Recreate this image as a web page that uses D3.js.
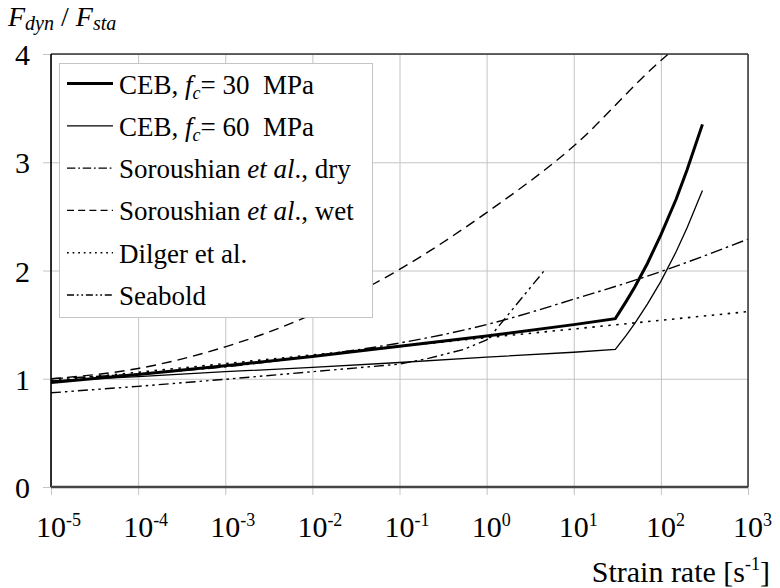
<!DOCTYPE html>
<html>
<head>
<meta charset="utf-8">
<script src="https://cdn.jsdelivr.net/npm/d3@7"></script>
<style>
  html, body { margin: 0; padding: 0; background: #fff; }
</style>
</head>
<body>
<div class="container"></div>
<script>
const WIDTH = 780;
const HEIGHT = 588;
const LEFT = 51, RIGHT = 748, TOP = 54, BOTTOM = 487;
const FONT = "'Liberation Serif'";

// tick values
const xTicks = [1e-5, 1e-4, 1e-3, 1e-2, 1e-1, 1, 10, 100, 1000];
const xTickExp = ["-5", "-4", "-3", "-2", "-1", "0", "1", "2", "3"];
const yTicks = [0, 1, 2, 3, 4];

// series (strain rate in 1/s, F_dyn / F_sta)
const ceb30Rate = [1e-5, 1e-4, 1e-3, 1e-2, 1e-1, 1, 10, 30, 40, 50, 70, 100, 150, 200, 300];
const ceb30Ratio = [0.965, 1.04, 1.12, 1.205, 1.30, 1.395, 1.50, 1.555, 1.715, 1.845, 2.065, 2.33, 2.66, 2.93, 3.35];
const ceb60Rate = [1e-5, 1e-4, 1e-3, 1e-2, 1e-1, 1, 10, 30, 40, 50, 70, 100, 150, 200, 300];
const ceb60Ratio = [0.98, 1.02, 1.065, 1.105, 1.15, 1.20, 1.245, 1.272, 1.40, 1.51, 1.69, 1.90, 2.175, 2.395, 2.74];
const dryRate = [1e-5, 1e-4, 1e-3, 1e-2, 1e-1, 1, 10, 100, 1000];
const dryRatio = [1.0, 1.045, 1.11, 1.21, 1.33, 1.50, 1.735, 1.99, 2.29];
const wetRate = [1e-5, 1e-4, 1e-3, 1e-2, 1e-1, 1, 10, 100, 122];
const wetRatio = [1.0, 1.095, 1.295, 1.595, 2.01, 2.535, 3.15, 3.94, 4.0];
const dilgerRate = [1e-5, 1000];
const dilgerRatio = [0.98, 1.62];
const seaboldRate = [1e-5, 1e-4, 1e-3, 1e-2, 1e-1, 0.22, 0.54, 1, 1.1, 4.6];
const seaboldRatio = [0.87, 0.93, 0.995, 1.065, 1.135, 1.19, 1.27, 1.36, 1.39, 2.0];

// legend labels: [text, style] pieces
const legendLabels = [
    [["CEB, ", "n"], ["f", "i"], ["c", "sub"], ["= 30\u00a0 MPa", "n"]],
    [["CEB, ", "n"], ["f", "i"], ["c", "sub"], ["= 60\u00a0 MPa", "n"]],
    [["Soroushian ", "n"], ["et al", "i"], ["., dry", "n"]],
    [["Soroushian ", "n"], ["et al", "i"], ["., wet", "n"]],
    [["Dilger et al.", "n"]],
    [["Seabold", "n"]]
];

const series = [
    {rate: ceb30Rate, ratio: ceb30Ratio, width: 3, dash: null, curve: d3.curveLinear},
    {rate: ceb60Rate, ratio: ceb60Ratio, width: 1.3, dash: null, curve: d3.curveLinear},
    {rate: dryRate, ratio: dryRatio, width: 1.4, dash: "12,4,2.5,4", curve: d3.curveMonotoneX},
    {rate: wetRate, ratio: wetRatio, width: 1.4, dash: "10,6", curve: d3.curveMonotoneX},
    {rate: dilgerRate, ratio: dilgerRatio, width: 1.6, dash: "2.5,5.5", curve: d3.curveLinear},
    {rate: seaboldRate, ratio: seaboldRatio, width: 1.4, dash: "10,4,2.5,4,2.5,4", curve: d3.curveLinear}
];

var xScale = d3.scaleLog().domain([1e-5, 1e3]).range([LEFT, RIGHT]);
var yScale = d3.scaleLinear().domain([0, 4]).range([BOTTOM, TOP]);

var svg = d3.select('.container').append('svg')
    .attr('width', WIDTH).attr('height', HEIGHT);

var drawGrid = function () {
    svg.append('g')
        .attr('transform', 'translate(0,' + (BOTTOM + 8) + ')')
        .call(d3.axisBottom(xScale).tickValues(xTicks).tickFormat('')
            .tickSize(-(BOTTOM + 8 - TOP)).tickSizeOuter(0))
        .call(g => g.select('.domain').remove())
        .call(g => g.selectAll('.tick line').attr('stroke', '#c4c4c4').attr('stroke-width', 1));

    svg.append('g')
        .attr('transform', 'translate(' + (LEFT - 8) + ',0)')
        .call(d3.axisLeft(yScale).tickValues(yTicks).tickFormat('')
            .tickSize(-(RIGHT - LEFT + 8)).tickSizeOuter(0))
        .call(g => g.select('.domain').remove())
        .call(g => g.selectAll('.tick line').attr('stroke', '#c4c4c4').attr('stroke-width', 1));
};

var drawFrame = function () {
    svg.append('line').attr('x1', LEFT).attr('x2', RIGHT).attr('y1', TOP).attr('y2', TOP)
        .attr('stroke', '#333').attr('stroke-width', 1.5);
    svg.append('line').attr('x1', RIGHT).attr('x2', RIGHT).attr('y1', TOP).attr('y2', BOTTOM)
        .attr('stroke', '#333').attr('stroke-width', 1.5);
    svg.append('line').attr('x1', LEFT).attr('x2', LEFT).attr('y1', TOP).attr('y2', BOTTOM)
        .attr('stroke', '#000').attr('stroke-width', 1.6);
    svg.append('line').attr('x1', LEFT).attr('x2', RIGHT).attr('y1', BOTTOM).attr('y2', BOTTOM)
        .attr('stroke', '#444').attr('stroke-width', 2.5);
};

var drawLabels = function () {
    var xl = svg.append('g').selectAll('text')
        .data(xTicks)
        .enter().append('text')
        .style('font-family', FONT)
        .attr('x', d => xScale(d) - 15)
        .attr('y', 537)
        .attr('font-size', 30);
    xl.append('tspan').text('10');
    xl.append('tspan').attr('font-size', 18).attr('dy', -11).text((d, i) => xTickExp[i]);

    svg.append('g').selectAll('text')
        .data(yTicks)
        .enter().append('text')
        .style('font-family', FONT)
        .attr('x', 30)
        .attr('y', d => yScale(d) + 11)
        .attr('text-anchor', 'end')
        .attr('font-size', 30)
        .text(d => d);

    var xt = svg.append('text').attr('x', 770).attr('y', 582)
        .style('font-family', FONT)
        .attr('text-anchor', 'end').attr('font-size', 30);
    xt.append('tspan').text('Strain rate [s');
    xt.append('tspan').attr('font-size', 18).attr('dy', -12).text('-1');
    xt.append('tspan').attr('dy', 12).text(']');

    var yt = svg.append('text').attr('x', 8).attr('y', 26).attr('font-size', 28)
        .style('font-family', FONT);
    yt.append('tspan').attr('font-style', 'italic').text('F');
    yt.append('tspan').attr('font-style', 'italic').attr('font-size', 20).attr('dy', 4).text('dyn');
    yt.append('tspan').attr('dy', -4).text(' / ');
    yt.append('tspan').attr('font-style', 'italic').text('F');
    yt.append('tspan').attr('font-style', 'italic').attr('font-size', 20).attr('dy', 4).text('sta');
};

var drawLines = function () {
    svg.append('clipPath').attr('id', 'plot-clip')
        .append('rect').attr('x', LEFT).attr('y', TOP)
        .attr('width', RIGHT - LEFT).attr('height', BOTTOM - TOP);

    var g = svg.append('g').attr('clip-path', 'url(#plot-clip)');
    series.forEach(function (s) {
        var pts = s.rate.map((r, i) => [r, s.ratio[i]]);
        var line = d3.line()
            .x(d => xScale(d[0]))
            .y(d => yScale(d[1]))
            .curve(s.curve);
        g.append('path')
            .attr('d', line(pts))
            .attr('fill', 'none')
            .attr('stroke', '#000')
            .attr('stroke-width', s.width)
            .attr('stroke-dasharray', s.dash);
    });
};

var drawLegend = function () {
    var lg = svg.append('g');
    lg.append('rect').attr('x', 59.5).attr('y', 63.5).attr('width', 313).attr('height', 254)
        .attr('fill', '#fff').attr('stroke', '#c4c4c4').attr('stroke-width', 1);

    legendLabels.forEach(function (parts, i) {
        var base = 93.5 + i * 42.3;
        var s = series[i];
        lg.append('line').attr('x1', 67).attr('x2', 113)
            .attr('y1', base - 10).attr('y2', base - 10)
            .attr('stroke', '#000').attr('stroke-width', s.width)
            .attr('stroke-dasharray', s.dash ? s.dash.split(',').map(v => v * 0.7).join(',') : null);
        var t = lg.append('text').attr('x', 119).attr('y', base).attr('font-size', 27)
            .style('font-family', FONT);
        var shift = 0;
        parts.forEach(function (p) {
            var sp = t.append('tspan').text(p[0]);
            if (p[1] === 'i') sp.attr('font-style', 'italic');
            if (p[1] === 'sub') {
                sp.attr('font-style', 'italic').attr('font-size', 18).attr('dy', 5);
                shift = 5;
            } else if (shift) {
                sp.attr('dy', -shift);
                shift = 0;
            }
        });
    });
};

drawGrid();
drawLines();
drawFrame();
drawLegend();
drawLabels();
</script>
</body>
</html>
